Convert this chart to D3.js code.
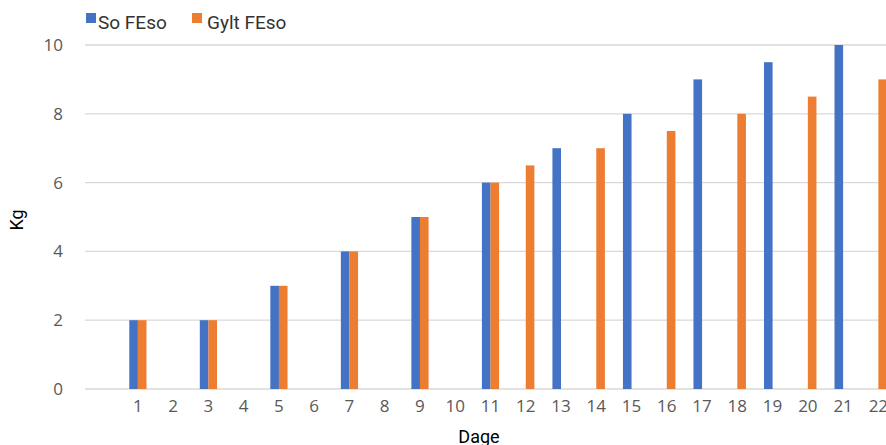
<!DOCTYPE html>
<html><head><meta charset="utf-8">
<script src="https://cdn.jsdelivr.net/npm/d3@7"></script>
<style>body{margin:0;background:#fff}svg{display:block}</style>
</head><body>
<svg id="c" width="886" height="445"></svg>
<script>
const categories = ["", "1","2","3","4","5","6","7","8","9","10","11","12","13","14","15","16","17","18","19","20","21","22"];
const soFEso =   [null, 2,null,2,null,3,null,4,null,5,null,6,null,7,null,8,null,9,null,9.5,null,10,null];
const gyltFEso = [null, 2,null,2,null,3,null,4,null,5,null,6,6.5,null,7,null,7.5,null,8,null,8.5,null,9];
const yTicks = [0,2,4,6,8,10];
const seriesNames = ["So FEso","Gylt FEso"];
const colors = ["#4472C4","#ED7D31"];

(function(){
const svg = d3.select("#c");
const mL = 85, mR = 896, mT = 45, mB = 389;
const x = d3.scaleBand().domain(categories).range([mL, mR]).paddingInner(0).paddingOuter(0);
const y = d3.scaleLinear().domain([0,10]).range([mB, mT]);
const barW = 8.6;

svg.append("g").selectAll("line").data(yTicks).join("line")
  .attr("x1", mL).attr("x2", 886)
  .attr("y1", d=>y(d)).attr("y2", d=>y(d))
  .attr("stroke", "#d9d9d9").attr("stroke-width", 1.3);

const yAxis = d3.axisLeft(y).tickValues(yTicks).tickSize(0).tickPadding(0);
const gy = svg.append("g").attr("transform", "translate(63,0)").call(yAxis);
gy.select(".domain").remove();
gy.selectAll("text").attr("font-family","Open Sans, sans-serif").attr("font-size", 17).attr("fill","#595959");

const xAxis = d3.axisBottom(x).tickSize(0).tickPadding(0);
const gx = svg.append("g").attr("transform", `translate(0,${mB+11})`).call(xAxis);
gx.select(".domain").remove();
gx.selectAll("text").attr("font-family","Open Sans, sans-serif").attr("font-size", 17).attr("fill","#595959");

const series = [soFEso, gyltFEso];
series.forEach((vals, si) => {
  const data = categories.map((c,i)=>({c, v: vals[i]})).filter(d=>d.v!=null);
  svg.append("g").selectAll("rect").data(data).join("rect")
    .attr("x", d => x(d.c) + x.bandwidth()/2 - barW + si*barW)
    .attr("y", d => y(d.v))
    .attr("width", barW)
    .attr("height", d => y(0) - y(d.v))
    .attr("fill", colors[si]);
});

const leg = svg.append("g").attr("font-family","Roboto, sans-serif").attr("font-size", 19).attr("fill","#333");
const legX = [86, 192];
seriesNames.forEach((n,i)=>{
  leg.append("rect").attr("x", legX[i]).attr("y", 13).attr("width", 10).attr("height", 10).attr("fill", colors[i]);
  leg.append("text").attr("x", legX[i] + (i==0?12:15)).attr("y", 29).text(n);
});

svg.append("text").attr("transform","translate(23,220) rotate(-90)").attr("text-anchor","middle")
  .attr("font-family","Roboto, sans-serif").attr("font-size",18).attr("fill","#000").text("Kg");
svg.append("text").attr("x", 479).attr("y", 443).attr("text-anchor","middle")
  .attr("font-family","Roboto, sans-serif").attr("font-size",18).attr("fill","#000").text("Dage");
})();
</script>
</body></html>
